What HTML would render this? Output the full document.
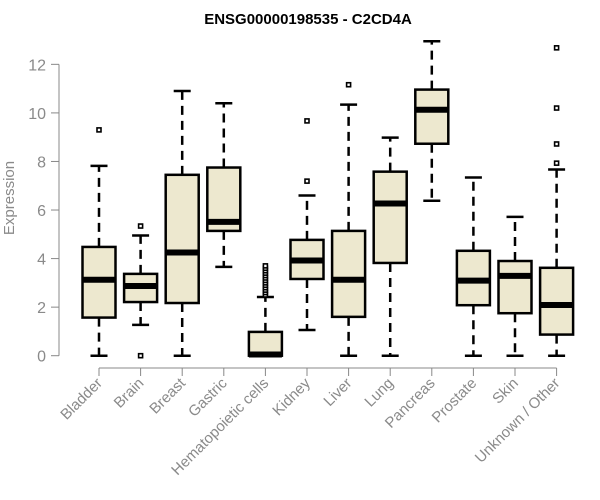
<!DOCTYPE html>
<html><head><meta charset="utf-8"><style>
body{margin:0;background:#fff;}
svg{display:block;font-family:"Liberation Sans",Arial,sans-serif;}
</style></head><body>
<svg id="chart" width="600" height="500">
<text x="308" y="24" text-anchor="middle" font-weight="bold" font-size="15" fill="#000">ENSG00000198535 - C2CD4A</text>
<text transform="translate(14,198) rotate(-90)" text-anchor="middle" font-size="15" fill="#8a8a8a">Expression</text>
<g id="yaxis"></g>
<g id="xaxis"></g>
<g id="boxes"></g>
</svg>
<script>
const categories=["Bladder","Brain","Breast","Gastric","Hematopoietic cells","Kidney","Liver","Lung","Pancreas","Prostate","Skin","Unknown / Other"];
const whiskerLow=[0,1.27,0,3.66,0,1.06,0,0,6.38,0,0,0];
const q1=[1.57,2.21,2.17,5.14,0,3.16,1.6,3.82,8.73,2.08,1.75,0.87];
const medians=[3.13,2.87,4.25,5.51,0.05,3.92,3.13,6.27,10.13,3.09,3.29,2.09];
const q3=[4.48,3.37,7.45,7.75,0.98,4.77,5.14,7.58,10.96,4.32,3.9,3.62];
const whiskerHigh=[7.82,4.95,10.9,10.4,2.42,6.6,10.34,8.98,12.95,7.34,5.72,7.67];
const outliers=[[9.3],[5.34,0],[],[],[2.5,2.6,2.7,2.8,2.9,3.0,3.1,3.2,3.3,3.4,3.5,3.6,3.7],[9.67,7.19],[11.16],[],[],[],[],[12.68,10.2,8.72,7.93]];
const yTicks=[0,2,4,6,8,10,12];
const NS="http://www.w3.org/2000/svg";
const y=v=>355.7-v*24.28;
const x=i=>99+i*41.6;
function mk(p,t,a){const e=document.createElementNS(NS,t);for(const k in a)e.setAttribute(k,a[k]);p.appendChild(e);return e;}
const ya=document.getElementById('yaxis');
mk(ya,'line',{x1:59,x2:59,y1:y(0),y2:y(12),stroke:'#888','stroke-width':1});
yTicks.forEach(t=>{
  const l=mk(ya,'line',{x1:51,x2:59,y1:y(t),y2:y(t),stroke:'#888'});
  
  
  const tx=mk(ya,'text',{x:46,y:y(t)+6,'text-anchor':'end','font-size':16,fill:'#8a8a8a'});
  tx.textContent=t;
  
  
});
const xa=document.getElementById('xaxis');
mk(xa,'line',{x1:x(0),x2:x(categories.length-1),y1:368,y2:368,stroke:'#888'});
const bx=document.getElementById('boxes');
categories.forEach((c,i)=>{
  const cx=x(i);
  const tk=mk(xa,'line',{x1:cx,x2:cx,y1:368,y2:376,stroke:'#888'});
  
  
  const tx=mk(xa,'text',{x:cx+4,y:384,'text-anchor':'end','font-size':15,fill:'#8a8a8a',transform:`rotate(-45 ${cx+4} 384)`});
  tx.textContent=c;
  
  
  const g=mk(bx,'g',{});
  
  
  mk(g,'line',{x1:cx,x2:cx,y1:y(q3[i]),y2:y(whiskerHigh[i]),stroke:'#000','stroke-width':2.5,'stroke-dasharray':'9,6'});
  mk(g,'line',{x1:cx,x2:cx,y1:y(q1[i]),y2:y(whiskerLow[i]),stroke:'#000','stroke-width':2.5,'stroke-dasharray':'9,6'});
  mk(g,'line',{x1:cx-8.5,x2:cx+8.5,y1:y(whiskerHigh[i]),y2:y(whiskerHigh[i]),stroke:'#000','stroke-width':2.5});
  mk(g,'line',{x1:cx-8.5,x2:cx+8.5,y1:y(whiskerLow[i]),y2:y(whiskerLow[i]),stroke:'#000','stroke-width':2.5});
  mk(g,'rect',{x:cx-16.5,y:y(q3[i]),width:33,height:Math.max(1,y(q1[i])-y(q3[i])),fill:'#ede8cf',stroke:'#000','stroke-width':2.5});
  mk(g,'line',{x1:cx-16.5,x2:cx+16.5,y1:y(medians[i]),y2:y(medians[i]),stroke:'#000','stroke-width':6});
  outliers[i].forEach(o=>{
    const p=mk(g,'rect',{x:cx-2,y:y(o)-2,width:4,height:4,fill:'#fff',stroke:'#000','stroke-width':1.6});
    
    
  });
});
</script>
</body></html>
